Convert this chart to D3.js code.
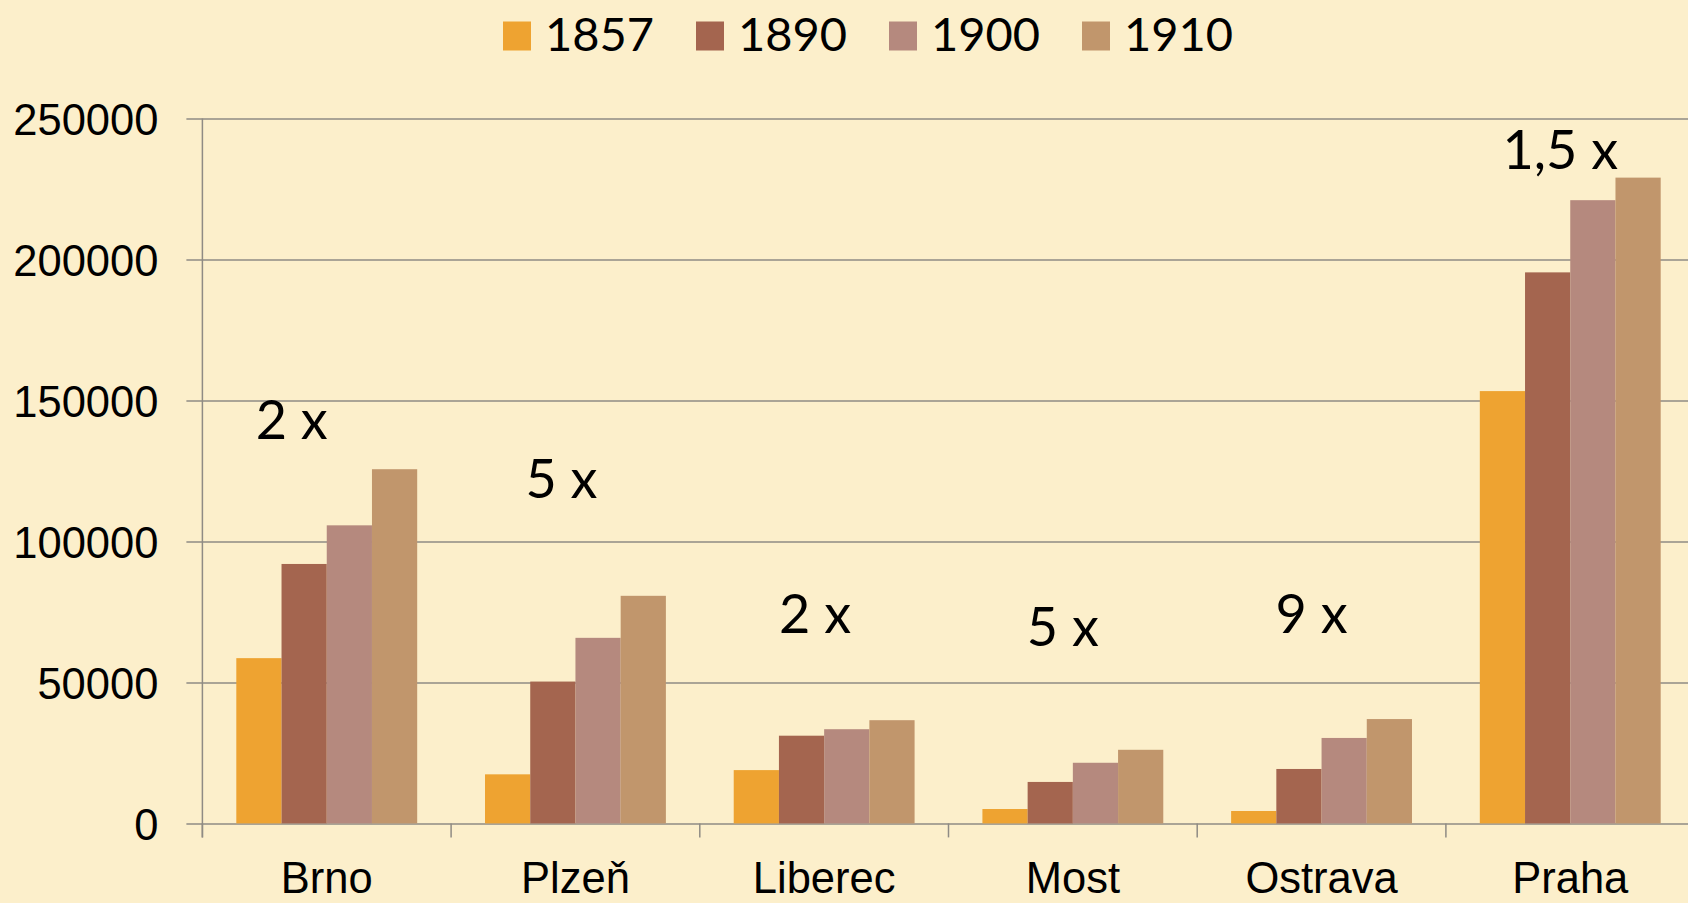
<!DOCTYPE html>
<meta charset="utf-8">
<style>
body { margin: 0; background: #fcefcb; }
svg { display: block; font-family: Lato, "Open Sans", sans-serif; }
.grid line { stroke: #8f8b84; stroke-width: 1.5px; }
.grid path { display: none; }
.grid text { font-size: 43.5px; fill: #000; }
.cat text { font-size: 43.5px; fill: #000; }
.cat path, .cat line { display: none; }
.note { font-size: 54px; fill: #000; }
.legend text { font-size: 47px; fill: #000; }
</style>
<body>
<script src="https://d3js.org/d3.v7.min.js"></script>
<script>

// data
var cities = ["Brno", "Plzeň", "Liberec", "Most", "Ostrava", "Praha"];
var years = ["1857", "1890", "1900", "1910"];
var pop1857 = [58600, 17400, 18900, 5100, 4400, 153300];
var pop1890 = [92000, 50300, 31100, 14700, 19300, 195400];
var pop1900 = [105700, 65800, 33400, 21500, 30300, 221000];
var pop1910 = [125600, 80700, 36600, 26100, 37000, 229000];
var growth = ["2 x", "5 x", "2 x", "5 x", "9 x", "1,5 x"];
var yTicks = [0, 50000, 100000, 150000, 200000, 250000];

var colors = ["#eea331", "#a4654f", "#b5897e", "#c1966c"];

// where the "N x" notes sit (value of the baseline, shift from group centre)
var noteLevel = [136300, 115400, 67500, 63000, 67500, 231950];
var noteShift = [-35, -14, -9, -10, -10, -10];

var series = [pop1857, pop1890, pop1900, pop1910];

var margin = {top: 118.4, left: 202.4},
    width = 1492.2,
    height = 705;

var svg = d3.select("body").append("svg")
    .attr("width", 1688)
    .attr("height", 903);

var g = svg.append("g")
    .attr("transform", "translate(" + margin.left + "," + margin.top + ")");

var x0 = d3.scaleBand().domain(cities).range([0, width]).padding(0);
var x1 = d3.scaleBand().domain(years).range([0, x0.bandwidth()])
    .paddingInner(0).paddingOuter(0.75);
var y = d3.scaleLinear().domain([0, 250000]).range([height, 0]);

// gridlines + y labels (ticks stick out 16px left of the axis)
g.append("g")
    .attr("class", "grid")
    .attr("transform", "translate(-16,0)")
    .call(d3.axisLeft(y).tickValues(yTicks).tickSize(-(width + 16)).tickPadding(28).tickFormat(d3.format("d")))
    .selectAll("text").attr("dy", "0.36em");

// y axis line
g.append("line")
    .attr("x1", 0).attr("x2", 0)
    .attr("y1", y(250000)).attr("y2", height + 14)
    .style("stroke", "#8f8b84").style("stroke-width", "1.5px");

// category boundary ticks
g.selectAll(".bound")
    .data(cities.concat(["end"]))
    .enter().append("line")
    .attr("class", "bound")
    .attr("x1", function(d, i) { return i * x0.step(); })
    .attr("x2", function(d, i) { return i * x0.step(); })
    .attr("y1", height).attr("y2", height + 14)
    .style("stroke", "#8f8b84").style("stroke-width", "1.5px");

// bars
var groups = g.selectAll(".city")
    .data(cities)
    .enter().append("g")
    .attr("class", "city")
    .attr("transform", function(d) { return "translate(" + x0(d) + ",0)"; });

groups.selectAll("rect")
    .data(function(d, i) {
        return years.map(function(yr, j) { return {year: yr, value: series[j][i], k: j}; });
    })
    .enter().append("rect")
    .attr("x", function(d) { return x1(d.year); })
    .attr("width", x1.bandwidth())
    .attr("y", function(d) { return y(d.value); })
    .attr("height", function(d) { return height - y(d.value); })
    .style("fill", function(d) { return colors[d.k]; });

// city labels (kept just inside the bottom edge)
var cat = g.append("g")
    .attr("class", "cat")
    .attr("transform", "translate(0," + height + ")")
    .call(d3.axisBottom(x0).tickSize(0));
cat.selectAll("text").attr("y", 70).attr("dy", 0);

// growth notes
g.selectAll(".note")
    .data(growth)
    .enter().append("text")
    .attr("class", "note")
    .attr("text-anchor", "middle")
    .attr("x", function(d, i) { return x0(cities[i]) + x0.bandwidth() / 2 + noteShift[i]; })
    .attr("y", function(d, i) { return y(noteLevel[i]); })
    .text(function(d) { return d; });

// legend
var legend = svg.append("g").attr("class", "legend");
var item = legend.selectAll("g")
    .data(years)
    .enter().append("g")
    .attr("transform", function(d, i) { return "translate(" + (503 + i * 193) + ",0)"; });

item.append("rect")
    .attr("x", 0).attr("y", 21.5)
    .attr("width", 28).attr("height", 29)
    .style("fill", function(d, i) { return colors[i]; });

item.append("text")
    .attr("x", 42).attr("y", 51)
    .text(function(d) { return d; });

</script>
</body>
